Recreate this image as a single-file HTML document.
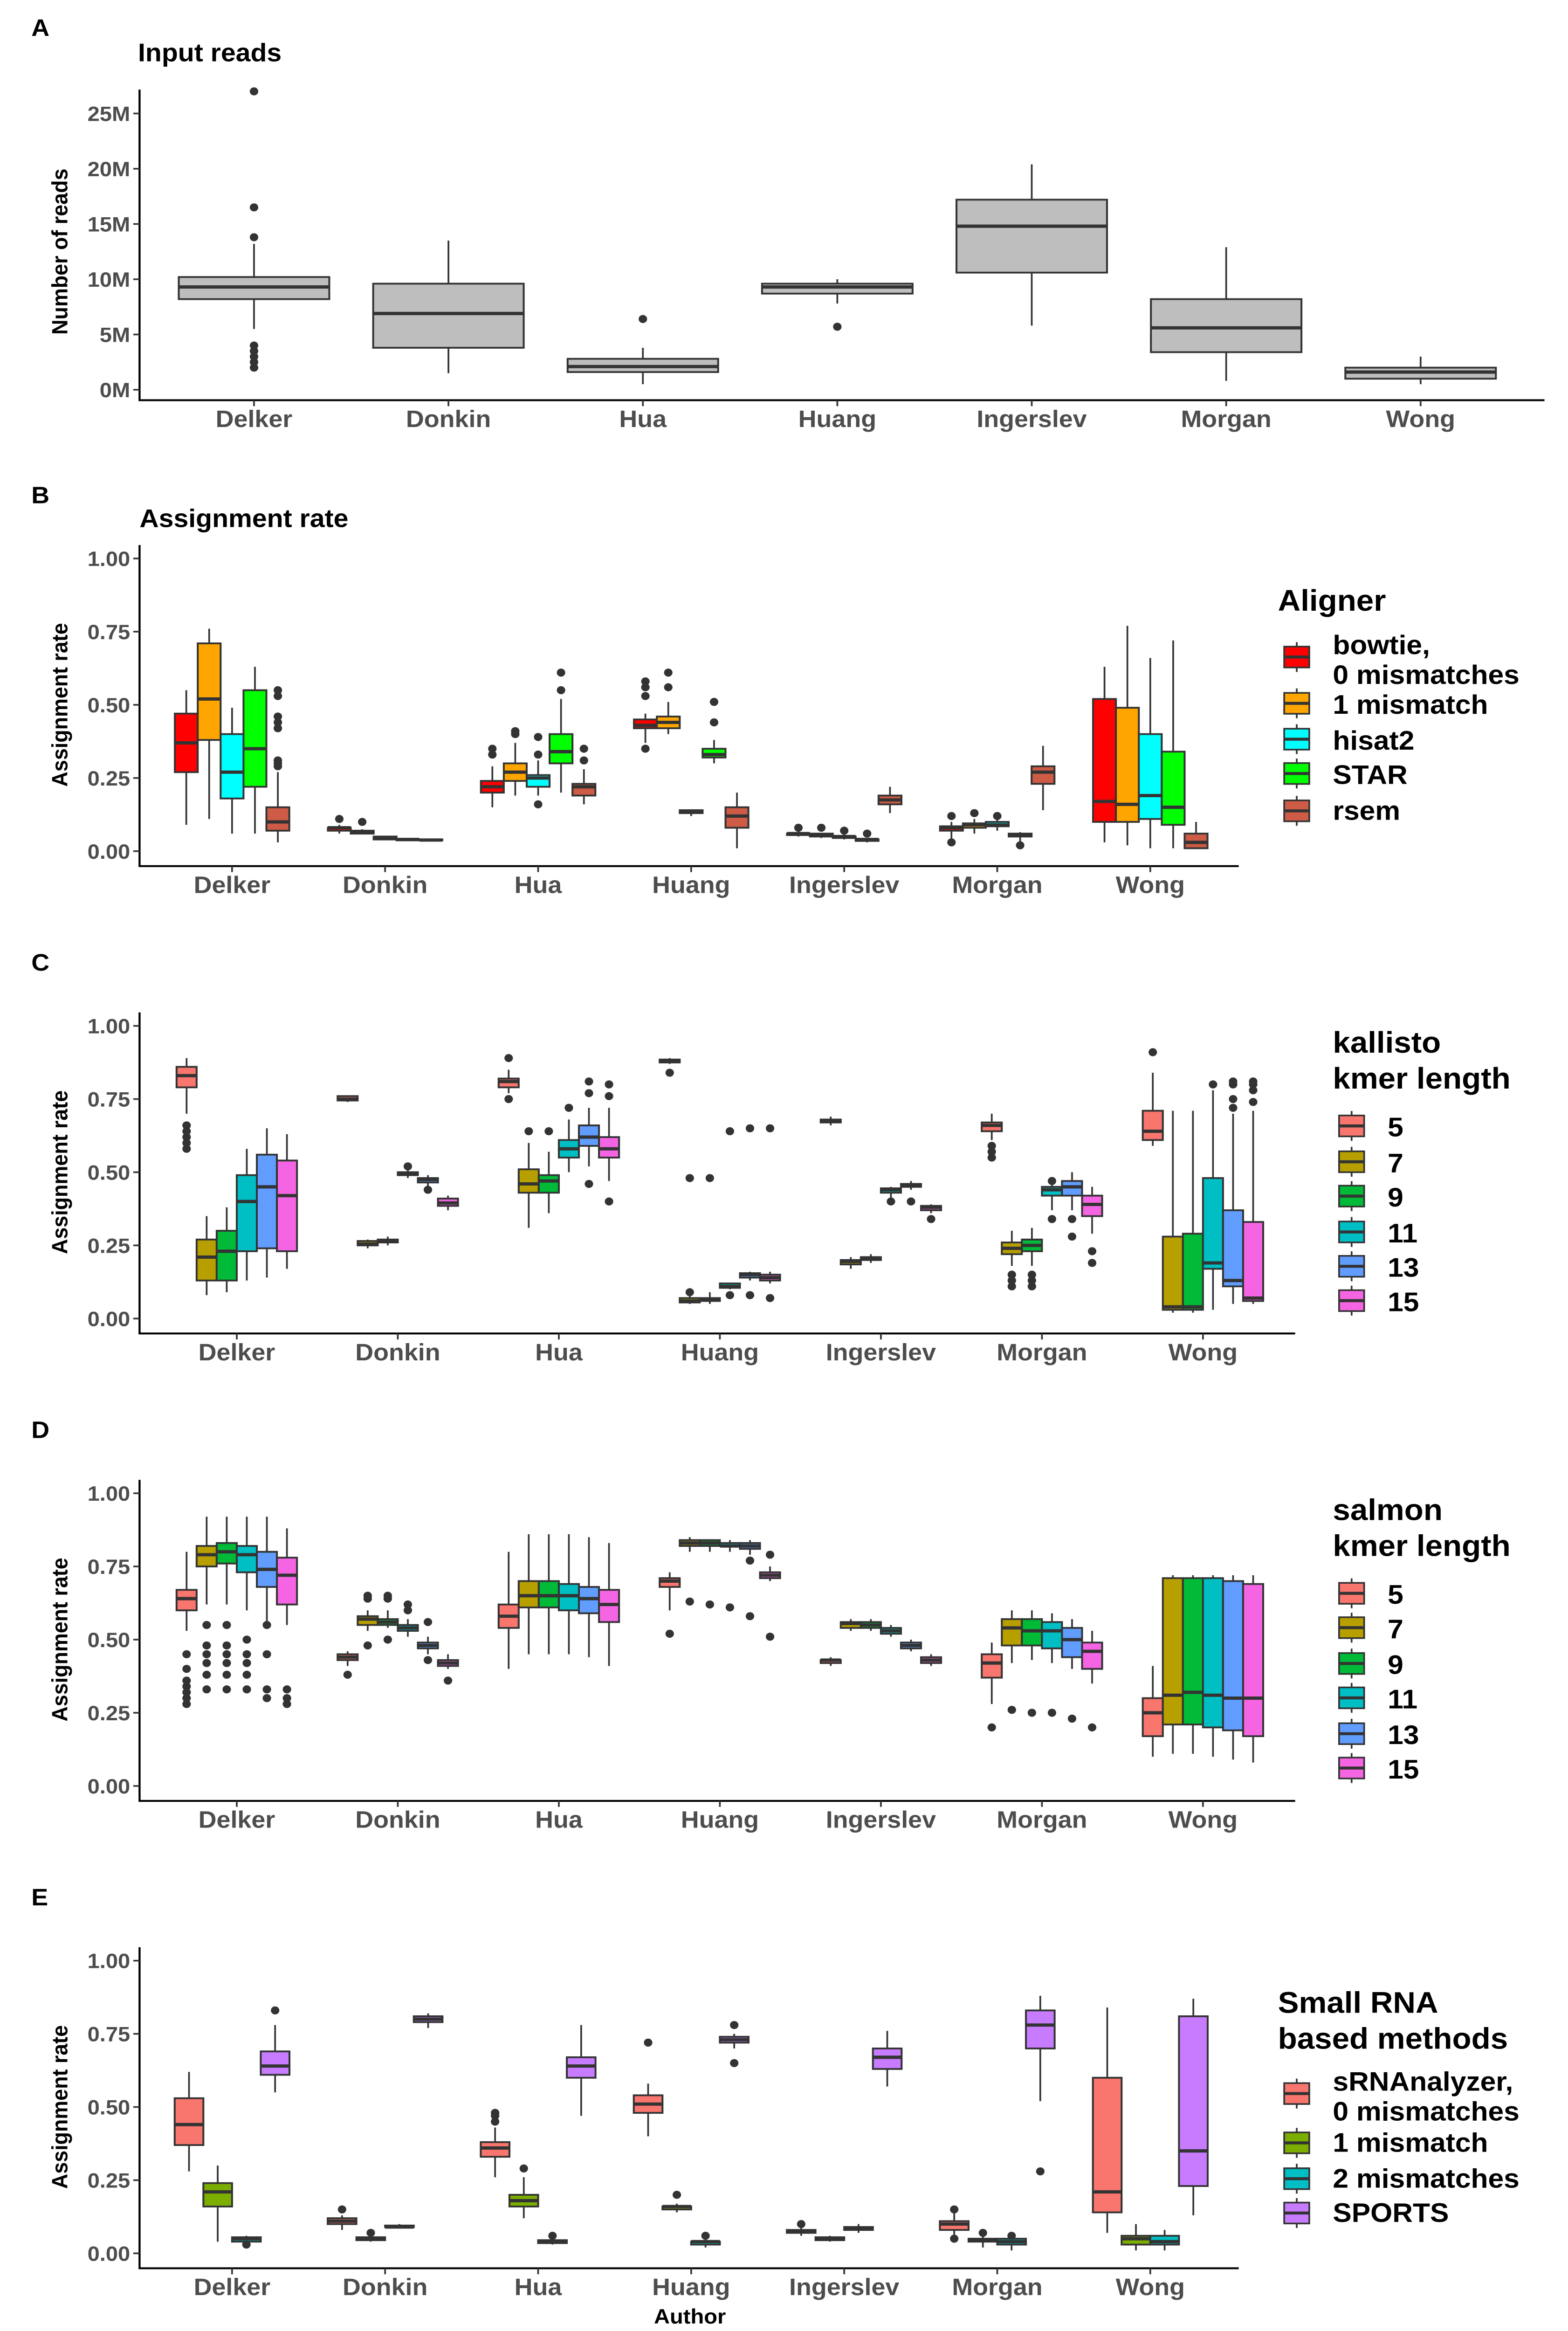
<!DOCTYPE html>
<html><head><meta charset="utf-8"><style>
html,body{margin:0;padding:0;background:#fff;width:100%;height:100%;overflow:hidden}
svg{display:block;position:absolute;left:0;top:0;width:100vw;height:100vh}
text{font-family:"Liberation Sans",Arial,sans-serif;font-weight:bold}
</style></head><body>
<svg id="fig" viewBox="0 0 1000 1561" preserveAspectRatio="none" xmlns="http://www.w3.org/2000/svg"></svg>
<script>
const authors=["Delker","Donkin","Hua","Huang","Ingerslev","Morgan","Wong"];
// Panel A: input reads (millions) [min,q1,med,q3,max,outliers]
const readsA=[[5.5,8.2,9.3,10.2,13.2,[2.0,2.5,3.0,3.5,4.0,13.8,16.5,27]],[1.5,3.8,6.9,9.6,13.5,[]],[0.5,1.6,2.1,2.8,3.8,[6.4]],[7.8,8.7,9.3,9.6,10,[5.7]],[5.8,10.6,14.8,17.2,20.4,[]],[0.8,3.4,5.6,8.2,12.9,[]],[0.5,1.0,1.6,2.0,3.0,[]]];
const ticksA=[0,5,10,15,20,25];
const ticksRate=[0,0.25,0.5,0.75,1];
// Panel B: aligners
const groupsB=["bowtie, 0 mismatches","1 mismatch","hisat2","STAR","rsem"];
const statsB=[
[[.09,.27,.37,.47,.55,[]],[.11,.38,.52,.71,.76,[]],[.06,.18,.27,.40,.49,[]],[.06,.22,.35,.55,.63,[]],[.03,.07,.10,.15,.27,[.29,.30,.31,.42,.44,.46,.53,.55]]],
[[.06,.07,.08,.08,.09,[.11]],[.06,.06,.065,.07,.075,[.10]],[.04,.04,.045,.05,.05,[]],[.035,.04,.04,.04,.045,[]],[.035,.037,.038,.04,.04,[]]],
[[.15,.20,.22,.24,.29,[.33,.35]],[.19,.24,.27,.30,.37,[.40,.41]],[.19,.22,.25,.26,.31,[.16,.33,.39]],[.20,.30,.34,.40,.52,[.55,.61]],[.16,.19,.22,.23,.28,[.31,.35]]],
[[.37,.42,.43,.45,.47,[.35,.53,.56,.58]],[.40,.42,.44,.46,.51,[.56,.61]],[.12,.13,.135,.14,.14,[]],[.30,.32,.33,.35,.38,[.44,.51]],[.01,.08,.12,.15,.20,[]]],
[[.05,.055,.06,.06,.07,[.08]],[.045,.05,.055,.06,.06,[.08]],[.04,.045,.05,.05,.06,[.07]],[.03,.035,.04,.04,.045,[.06]],[.13,.16,.175,.19,.22,[]]],
[[.04,.07,.08,.085,.10,[.03,.12]],[.06,.08,.09,.095,.11,[.13]],[.07,.085,.09,.10,.11,[.12]],[.03,.05,.055,.06,.065,[.02]],[.14,.23,.27,.29,.36,[]]],
[[.03,.10,.17,.52,.63,[]],[.02,.10,.16,.49,.77,[]],[.01,.11,.19,.40,.66,[]],[.01,.09,.15,.34,.72,[]],[.01,.01,.03,.06,.10,[]]]];
// Panel C: kallisto
const groupsK=["5","7","9","11","13","15"];
const statsC=[
[[.70,.79,.83,.86,.89,[.58,.60,.62,.64,.66]],[.08,.13,.21,.27,.35,[]],[.09,.13,.23,.30,.38,[]],[.13,.23,.40,.49,.58,[]],[.14,.24,.45,.56,.65,[]],[.17,.23,.42,.54,.63,[]]],
[[.74,.745,.75,.76,.76,[]],[.24,.25,.255,.265,.27,[]],[.25,.26,.265,.27,.28,[]],[.48,.49,.495,.50,.51,[.52]],[.45,.465,.475,.48,.49,[.44]],[.37,.385,.395,.41,.42,[]]],
[[.77,.79,.81,.82,.85,[.75,.89]],[.31,.43,.46,.51,.60,[.64]],[.36,.43,.47,.49,.57,[.64]],[.50,.55,.58,.61,.68,[.72]],[.52,.59,.62,.66,.72,[.46,.77,.81]],[.47,.55,.58,.62,.72,[.40,.76,.80]]],
[[.87,.875,.88,.885,.89,[.84]],[.05,.055,.06,.07,.08,[.09,.48]],[.05,.06,.065,.07,.09,[.48]],[.10,.105,.11,.12,.12,[.08,.64]],[.13,.14,.15,.155,.16,[.65,.08]],[.12,.13,.14,.15,.16,[.07,.65]]],
[[.66,.67,.675,.68,.69,[]],[.17,.185,.195,.20,.21,[]],[.19,.20,.205,.21,.22,[]],[.41,.43,.44,.445,.45,[.40]],[.44,.45,.455,.46,.47,[.40]],[.36,.37,.38,.385,.39,[.34]]],
[[.61,.64,.66,.67,.70,[.55,.57,.59]],[.18,.22,.24,.26,.30,[.11,.13,.15]],[.18,.23,.25,.27,.31,[.11,.13,.15]],[.37,.42,.44,.45,.48,[.34,.47]],[.37,.42,.45,.47,.50,[.28,.34]],[.29,.35,.39,.42,.45,[.19,.23]]],
[[.59,.61,.64,.71,.84,[.91]],[.02,.03,.04,.28,.71,[]],[.02,.03,.04,.29,.71,[]],[.03,.17,.19,.48,.78,[.80]],[.05,.11,.13,.37,.70,[.72,.75,.80,.81]],[.05,.06,.07,.33,.71,[.74,.78,.80,.81]]]];
// Panel D: salmon
const statsD=[
[[.53,.60,.64,.67,.80,[.28,.30,.32,.34,.36,.40,.45]],[.62,.75,.79,.82,.92,[.33,.38,.42,.45,.48,.55]],[.62,.76,.80,.83,.92,[.33,.38,.42,.45,.48,.55]],[.60,.73,.79,.82,.92,[.33,.38,.42,.45,.50]],[.55,.68,.74,.80,.92,[.30,.33,.45,.55]],[.55,.62,.72,.78,.88,[.28,.30,.33]]],
[[.41,.43,.44,.45,.46,[.38]],[.53,.55,.57,.58,.60,[.64,.65,.48]],[.54,.55,.56,.57,.60,[.64,.65,.50]],[.51,.53,.54,.55,.57,[.60,.62]],[.45,.47,.48,.49,.51,[.43,.56]],[.40,.41,.42,.43,.45,[.36]]],
[[.40,.54,.58,.62,.80,[]],[.45,.61,.65,.70,.86,[]],[.45,.61,.65,.70,.86,[]],[.45,.60,.65,.69,.86,[]],[.44,.59,.64,.68,.85,[]],[.41,.56,.62,.67,.83,[]]],
[[.60,.68,.70,.71,.73,[.52]],[.80,.82,.83,.84,.85,[.63]],[.80,.82,.83,.84,.84,[.62]],[.80,.82,.82,.83,.84,[.61]],[.79,.81,.82,.83,.84,[.58,.77]],[.70,.71,.72,.73,.75,[.51,.79]]],
[[.41,.42,.43,.43,.44,[]],[.53,.54,.555,.56,.57,[]],[.53,.54,.55,.56,.57,[]],[.51,.52,.53,.54,.55,[]],[.46,.47,.48,.49,.50,[]],[.41,.42,.43,.44,.45,[]]],
[[.28,.37,.42,.45,.49,[.20]],[.42,.48,.54,.57,.60,[.26]],[.43,.48,.53,.57,.60,[.25]],[.42,.47,.53,.56,.59,[.25]],[.40,.44,.50,.54,.57,[.23]],[.35,.40,.46,.49,.53,[.20]]],
[[.10,.17,.25,.30,.41,[]],[.11,.21,.31,.71,.72,[]],[.11,.21,.32,.71,.72,[]],[.10,.20,.31,.71,.72,[]],[.09,.19,.30,.70,.72,[]],[.08,.17,.30,.69,.72,[]]]];
// Panel E: small RNA methods
const groupsE=["sRNAnalyzer, 0 mismatches","1 mismatch","2 mismatches","SPORTS"];
const statsE=[
[[.28,.37,.44,.53,.62,[]],[.04,.16,.21,.24,.30,[]],[.03,.04,.05,.055,.06,[.03]],[.55,.61,.64,.69,.78,[.83]]],
[[.08,.10,.11,.12,.13,[.15]],[.04,.045,.05,.055,.06,[.07]],[.085,.09,.09,.095,.10,[]],[.77,.79,.80,.81,.82,[]]],
[[.26,.33,.36,.38,.43,[.45,.47,.48]],[.12,.16,.18,.20,.26,[.29]],[.03,.035,.04,.045,.05,[.06]],[.47,.60,.64,.67,.78,[]]],
[[.40,.48,.51,.54,.58,[.72]],[.14,.15,.16,.16,.17,[.20]],[.02,.03,.04,.04,.05,[.06]],[.70,.72,.73,.74,.75,[.65,.78]]],
[[.06,.07,.075,.08,.09,[.10]],[.04,.045,.05,.055,.06,[]],[.07,.08,.085,.09,.10,[]],[.57,.63,.67,.70,.76,[]]],
[[.05,.08,.10,.11,.14,[.05,.15]],[.02,.04,.045,.05,.07,[.07]],[.01,.03,.04,.05,.07,[.06]],[.52,.70,.78,.83,.88,[.28]]],
[[.07,.14,.21,.60,.84,[]],[.01,.03,.05,.06,.10,[]],[.01,.03,.04,.06,.08,[]],[.13,.23,.35,.81,.87,[]]]];

const NS="http://www.w3.org/2000/svg";
const svg=document.getElementById('fig');
function mk(tag,attrs,parent){const e=document.createElementNS(NS,tag);for(const k in attrs)e.setAttribute(k,attrs[k]);(parent||svg).appendChild(e);return e;}
function txt(s,x,y,size,fill,anchor,parent,rot){const t=mk('text',{x:x,y:y,'font-size':size,fill:fill,'text-anchor':anchor||'start'},parent);if(rot)t.setAttribute('transform',`rotate(-90 ${x} ${y})`);t.textContent=s;return t;}
const ST="#333333";

function panel(cfg){
  const g=mk('g',{});
  
  
  const yS=v=>cfg.y0-(v-cfg.vmin)/(cfg.vmax-cfg.vmin)*(cfg.y0-cfg.y1);
  const lt=txt(cfg.letter,cfg.letterX,cfg.letterY,16,'#000','start',g);
  
  if(cfg.title){const t=txt(cfg.title,cfg.titleX,cfg.titleY,17,'#000','start',g);}
  const ax=mk('path',{d:`M${cfg.ax} ${cfg.axTop} V${cfg.axB} H${cfg.axR}`,stroke:'#000','stroke-width':1.3,fill:'none'},g);
  
  cfg.ticks.forEach((v,i)=>{const y=yS(v);mk('line',{x1:cfg.ax-4,x2:cfg.ax,y1:y,y2:y,stroke:'#333','stroke-width':1.1},g);
    const t=txt(cfg.tickLabels[i],cfg.ax-6,y+5,14,'#4d4d4d','end',g);});
  const yt=txt(cfg.ytitle,cfg.ytX,(cfg.y0+cfg.y1)/2,14,'#000','middle',g,true);
  
  authors.forEach((a,ci)=>{const x=cfg.cat0+ci*cfg.catStep;
    mk('line',{x1:x,x2:x,y1:cfg.axB,y2:cfg.axB+4,stroke:'#333','stroke-width':1.1},g);
    const t=txt(a,x,cfg.axB+18,16,'#4d4d4d','middle',g);
    const grp=cfg.stats[ci];const n=grp.length;
    grp.forEach((s,gi)=>{
      const cx=x+(gi-(n-1)/2)*cfg.bw;const hw=cfg.bw*cfg.fillFrac/2;
      const bg=mk('g',{},g);
      
      
      mk('line',{x1:cx,x2:cx,y1:yS(s[0]),y2:yS(s[4]),stroke:ST,'stroke-width':1.1},bg);
      mk('rect',{x:cx-hw,y:yS(s[3]),width:2*hw,height:Math.max(0.6,yS(s[1])-yS(s[3])),fill:cfg.colors[gi],stroke:ST,'stroke-width':1.2},bg);
      mk('line',{x1:cx-hw,x2:cx+hw,y1:yS(s[2]),y2:yS(s[2]),stroke:ST,'stroke-width':2.2},bg);
      s[5].forEach(o=>{mk('circle',{cx:cx,cy:yS(o),r:2.7,fill:ST},bg);});
    });
  });
  if(cfg.xtitle){const t=txt(cfg.xtitle,cfg.xtX,cfg.xtY,14,'#000','middle',g);}
  if(cfg.legend){const L=cfg.legend;const lg=mk('g',{},g);
    
    L.title.forEach((s,i)=>txt(s,L.x,L.titleY+i*24,20,'#000','start',lg));
    L.keys.forEach((ky,i)=>{const eg=mk('g',{},lg);
      
      
      const cy=ky.y,kx=L.x+2;
      mk('line',{x1:kx+10,x2:kx+10,y1:cy-10,y2:cy+10,stroke:ST,'stroke-width':1.1},eg);
      mk('rect',{x:kx+2,y:cy-7,width:16,height:14,fill:cfg.colors[i],stroke:ST,'stroke-width':1.1},eg);
      mk('line',{x1:kx+2,x2:kx+18,y1:cy,y2:cy,stroke:ST,'stroke-width':2},eg);
      ky.lines.forEach((s,j)=>txt(s,L.x+35,ky.ly+j*20,18,'#000','start',eg));
    });
  }
}
const col5=["#ff0000","#ffa500","#00ffff","#00ff00","#cd5b45"];
const hue6=["#F8766D","#B79F00","#00BA38","#00BFC4","#619CFF","#F564E3"];
const hue4=["#F8766D","#7CAE00","#00BFC4","#C77CFF"];
panel({name:'panel-a',letter:'A',letterX:20,letterY:24,title:'Input reads',titleX:88,titleY:41,ax:89,axTop:60,axB:268,axR:985,
 y0:261,y1:76,vmin:0,vmax:25,ticks:ticksA,tickLabels:ticksA.map(v=>v+'M'),ytitle:'Number of reads',ytX:43,
 cat0:162,catStep:124,bw:96,fillFrac:1,stats:readsA.map(r=>[r]),colors:["#bebebe"]});
panel({name:'panel-b',letter:'B',letterX:20,letterY:337,title:'Assignment rate',titleX:89,titleY:353,ax:89,axTop:365,axB:580,axR:790,
 y0:570,y1:374,vmin:0,vmax:1,ticks:ticksRate,tickLabels:ticksRate.map(v=>v.toFixed(2)),ytitle:'Assignment rate',ytX:43,
 cat0:148,catStep:97.6,bw:14.6,fillFrac:1,stats:statsB,colors:col5,
 legend:{x:815,title:['Aligner'],titleY:409,keys:[{y:440,ly:438,lines:['bowtie,','0 mismatches']},{y:471,ly:478,lines:['1 mismatch']},{y:495,ly:502,lines:['hisat2']},{y:518,ly:525,lines:['STAR']},{y:543,ly:549,lines:['rsem']}]}});
const kLegY=[754,778,801,825,848,871];
panel({name:'panel-c',letter:'C',letterX:20,letterY:650,ax:89,axTop:678,axB:893,axR:826,
 y0:883,y1:687,vmin:0,vmax:1,ticks:ticksRate,tickLabels:ticksRate.map(v=>v.toFixed(2)),ytitle:'Assignment rate',ytX:43,
 cat0:151,catStep:102.7,bw:12.8,fillFrac:1,stats:statsC,colors:hue6,
 legend:{x:850,title:['kallisto','kmer length'],titleY:705,keys:groupsK.map((k,i)=>({y:kLegY[i],ly:kLegY[i]+7,lines:[k]}))}});
const sLegY=[1067,1090,1114,1137,1161,1184];
panel({name:'panel-d',letter:'D',letterX:20,letterY:963,ax:89,axTop:991,axB:1206,axR:826,
 y0:1196,y1:1000,vmin:0,vmax:1,ticks:ticksRate,tickLabels:ticksRate.map(v=>v.toFixed(2)),ytitle:'Assignment rate',ytX:43,
 cat0:151,catStep:102.7,bw:12.8,fillFrac:1,stats:statsD,colors:hue6,
 legend:{x:850,title:['salmon','kmer length'],titleY:1018,keys:groupsK.map((k,i)=>({y:sLegY[i],ly:sLegY[i]+7,lines:[k]}))}});
panel({name:'panel-e',letter:'E',letterX:20,letterY:1276,ax:89,axTop:1304,axB:1519,axR:790,
 y0:1509,y1:1313,vmin:0,vmax:1,ticks:ticksRate,tickLabels:ticksRate.map(v=>v.toFixed(2)),ytitle:'Assignment rate',ytX:43,
 cat0:148,catStep:97.6,bw:18.3,fillFrac:1,stats:statsE,colors:hue4,xtitle:'Author',xtX:440,xtY:1556,
 legend:{x:815,title:['Small RNA','based methods'],titleY:1348,keys:[{y:1402,ly:1400,lines:['sRNAnalyzer,','0 mismatches']},{y:1435,ly:1441,lines:['1 mismatch']},{y:1459,ly:1465,lines:['2 mismatches']},{y:1482,ly:1488,lines:['SPORTS']}]}});
</script>
</body></html>
